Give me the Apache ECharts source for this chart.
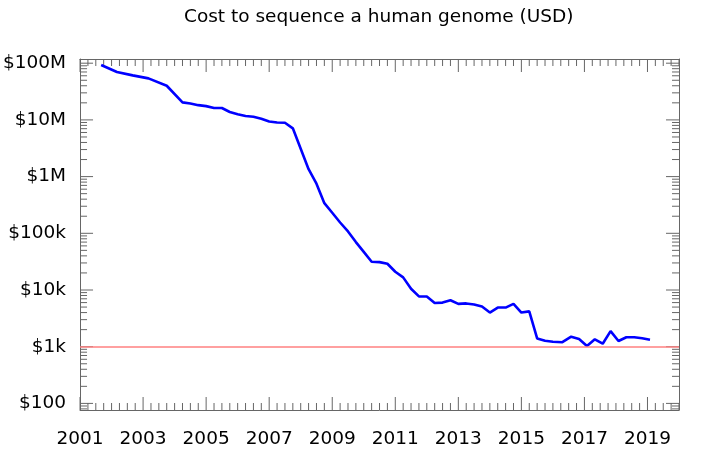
<!DOCTYPE html>
<html><head><meta charset="utf-8">
<script src="https://cdn.jsdelivr.net/npm/echarts@6/dist/echarts.min.js"></script>
<style>html,body{margin:0;padding:0;background:#fff}#c{width:702px;height:459px}</style>
</head><body><div id="c"></div>
<script>
// ---- data ----
const years = [2001.67, 2002.17, 2002.67, 2003.17, 2003.75,
  2004.25, 2004.5, 2004.75, 2005.0, 2005.25, 2005.5, 2005.75,
  2006.0, 2006.25, 2006.5, 2006.75, 2007.0, 2007.25, 2007.5, 2007.75,
  2008.0, 2008.25, 2008.5, 2008.75, 2009.0, 2009.25, 2009.5, 2009.75,
  2010.0, 2010.25, 2010.5, 2010.75, 2011.0, 2011.25, 2011.5, 2011.75,
  2012.0, 2012.25, 2012.5, 2012.75, 2013.0, 2013.25, 2013.5, 2013.75,
  2014.0, 2014.25, 2014.5, 2014.75, 2015.0, 2015.25, 2015.5, 2015.75,
  2016.0, 2016.3, 2016.58, 2016.83, 2017.08, 2017.33, 2017.58, 2017.83,
  2018.08, 2018.33, 2018.58, 2018.83, 2019.08];
const costs = [93000000, 70000000, 61000000, 54000000, 40000000,
  20400000, 19500000, 18200000, 17500000, 16200000, 16200000, 13800000,
  12600000, 11700000, 11400000, 10500000, 9400000, 9000000, 8900000, 7100000,
  3100000, 1350000, 750000, 340000, 230000, 155000, 108000, 70000,
  47000, 31500, 31000, 29000, 21000, 16700, 10500, 7700,
  7700, 5900, 6000, 6600, 5700, 5800, 5550, 5100,
  4000, 4900, 4900, 5700, 4000, 4200, 1400, 1270,
  1220, 1200, 1500, 1370, 1030, 1350, 1130, 1880,
  1260, 1470, 1470, 1410, 1330];
const yDecadeValues = [100, 1000, 10000, 100000, 1000000, 10000000, 100000000];
const yTickLabels = ['$100', '$1k', '$10k', '$100k', '$1M', '$10M', '$100M'];
const xFirstYear = 2001;
const xLastYear = 2020;
const xLabelStep = 2;      // years between labelled ticks
const xMinorPerMajor = 8;  // quarterly minor ticks
const yMin = 76.5;
const yMax = 118600000;
const referenceLine = 1000;
const titleText = 'Cost to sequence a human genome (USD)';

// ---- derived ----
const span = xLastYear - xFirstYear;
const seriesData = years.map((y, i) => [y - xFirstYear, costs[i]]);
// y ticks: [value, isMajor]
const yTicks = [];
for (let k = 1; k <= 8; k++) for (let m = 1; m <= 9; m++) {
  const v = m * Math.pow(10, k);
  if (v > yMin && v < yMax) yTicks.push([v, m === 1 ? 1 : 0]);
}
// x ticks: [offset, isMajor]
const xTicks = [];
const xStep = xLabelStep / xMinorPerMajor;
for (let i = 0; i * xStep <= span + 1e-9; i++) {
  xTicks.push([i * xStep, i % xMinorPerMajor === 0 ? 1 : 0]);
}
const AX = '#666';
const FONT = 'DejaVu Sans';
const MAJ = 13, MIN = 7;

function yLabel(v) {
  const e = Math.log10(v);
  const r = Math.round(e);
  if (Math.abs(e - r) > 1e-6) return '';
  const idx = yDecadeValues.indexOf(Math.pow(10, r));
  return idx >= 0 ? yTickLabels[idx] : '';
}

const xBase = {
  type: 'value', min: 0, max: span, interval: xLabelStep,
  axisLine: { show: true, onZero: false, lineStyle: { color: AX, width: 1 } },
  axisTick: { show: false },
  minorTick: { show: false },
  splitLine: { show: false },
};
const yBase = {
  type: 'log', logBase: 10, min: yMin, max: yMax, splitNumber: 6,
  axisLine: { show: true, onZero: false, lineStyle: { color: AX, width: 1 } },
  axisTick: { show: false },
  minorTick: { show: false },
  splitLine: { show: false },
};

function tickLine(x1, y1, x2, y2) {
  return { type: 'line', shape: { x1: x1, y1: y1, x2: x2, y2: y2 }, style: { stroke: AX, lineWidth: 1 } };
}

const chart = echarts.init(document.getElementById('c'), null, { renderer: 'canvas' });
chart.setOption({
  animation: false,
  backgroundColor: '#fff',
  title: {
    text: titleText, left: 184, top: 8, padding: 0,
    textStyle: { fontFamily: FONT, fontSize: 18.5, fontWeight: 'normal', color: '#000' }
  },
  grid: { left: 80, right: 23, top: 59, bottom: 49, containLabel: false },
  xAxis: [
    Object.assign({}, xBase, {
      position: 'bottom',
      axisLabel: {
        show: true, margin: 20, fontFamily: FONT, fontSize: 18.5, color: '#000',
        showMaxLabel: false,
        formatter: v => (v < span ? String(v + xFirstYear) : '')
      }
    }),
    Object.assign({}, xBase, { position: 'top', axisLabel: { show: false } })
  ],
  yAxis: [
    Object.assign({}, yBase, {
      position: 'left',
      axisLabel: {
        show: true, margin: 14, fontFamily: FONT, fontSize: 18.5, color: '#000',
        showMinLabel: false, showMaxLabel: false, formatter: yLabel
      }
    }),
    Object.assign({}, yBase, { position: 'right', axisLabel: { show: false } })
  ],
  series: [
    {
      type: 'custom', name: 'yticks', xAxisIndex: 0, yAxisIndex: 0, silent: true, clip: false, z: 1,
      data: yTicks,
      encode: { x: -1, y: 0 },
      renderItem: function (params, api) {
        const v = api.value(0);
        const len = api.value(1) ? MAJ : MIN;
        const l = api.coord([0, v]);
        const r = api.coord([span, v]);
        return { type: 'group', children: [
          tickLine(l[0], l[1], l[0] + len, l[1]),
          tickLine(r[0], r[1], r[0] - len, r[1])
        ] };
      }
    },
    {
      type: 'custom', name: 'xticks', xAxisIndex: 0, yAxisIndex: 0, silent: true, clip: false, z: 1,
      data: xTicks,
      encode: { x: 0, y: -1 },
      renderItem: function (params, api) {
        const x = api.value(0);
        const len = api.value(1) ? MAJ : MIN;
        const b = api.coord([x, yMin]);
        const t = api.coord([x, yMax]);
        return { type: 'group', children: [
          tickLine(b[0], b[1], b[0], b[1] - len),
          tickLine(t[0], t[1], t[0], t[1] + len)
        ] };
      }
    },
    {
      type: 'line', name: 'cost', data: seriesData, showSymbol: false, symbol: 'none',
      xAxisIndex: 0, yAxisIndex: 0, z: 3,
      lineStyle: { color: '#0000ff', width: 2.6 }, itemStyle: { color: '#0000ff' },
      markLine: {
        silent: true, symbol: 'none', animation: false,
        label: { show: false },
        lineStyle: { color: '#ff8080', width: 1.5, type: 'solid' },
        data: [{ yAxis: referenceLine }]
      }
    }
  ]
});
</script>
</body></html>
